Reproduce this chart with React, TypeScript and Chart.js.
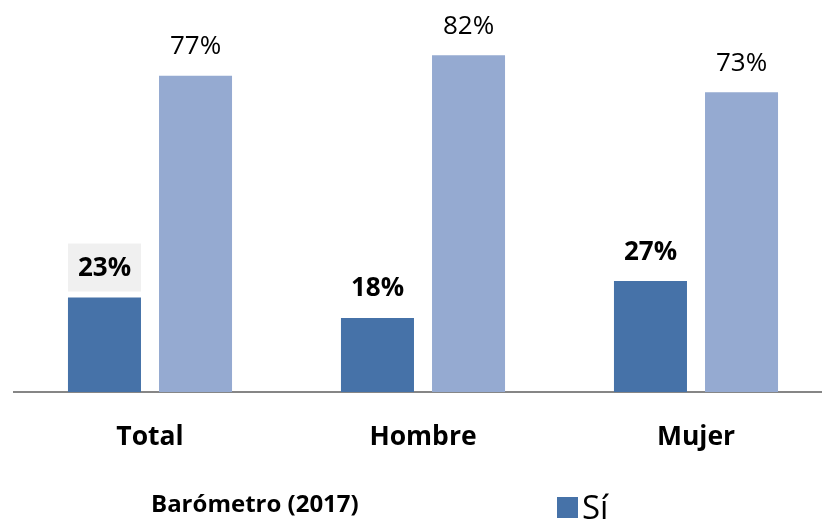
import React, { useEffect, useRef } from "react";
import { Chart, registerables } from "chart.js";

Chart.register(...registerables);

const categories = ["Total", "Hombre", "Mujer"];
const siValues = [23, 18, 27];
const noValues = [77, 82, 73];
const seriesNames = ["Sí", "No"];
const highlightedSiLabel = [true, false, false];
const footerText = "Barómetro (2017)";

const SI_COLOR = "#4672A8";
const NO_COLOR = "#95AAD1";
const FONT = "'Open Sans', Lato, sans-serif";

const labelPlugin = {
  id: "valueLabels",
  afterDatasetsDraw(chart: any) {
    const ctx = chart.ctx;
    ctx.save();
    chart.data.datasets.forEach((ds: any, di: number) => {
      const meta = chart.getDatasetMeta(di);
      meta.data.forEach((bar: any, i: number) => {
        const v = ds.data[i];
        const bold = di === 0;
        const cy = bar.y - 29;
        if (di === 0 && highlightedSiLabel[i]) {
          const w = bar.width;
          ctx.fillStyle = "#F0F0F0";
          ctx.fillRect(bar.x - w / 2, cy - 25, w, 48);
        }
        ctx.fillStyle = "#000";
        ctx.font = `${bold ? "bold " : ""}26px ${FONT}`;
        ctx.textAlign = "center";
        ctx.textBaseline = "middle";
        ctx.fillText(`${v}%`, bar.x, cy);
      });
    });
    ctx.restore();
  },
  afterDraw(chart: any) {
    const ctx = chart.ctx;
    ctx.save();
    ctx.fillStyle = "#000";
    ctx.font = `bold 24px ${FONT}`;
    ctx.textAlign = "left";
    ctx.textBaseline = "alphabetic";
    ctx.fillText(footerText, 151, 512);
    ctx.fillStyle = SI_COLOR;
    ctx.fillRect(557, 497, 21, 21);
    ctx.fillStyle = "#000";
    ctx.font = `33px ${FONT}`;
    ctx.fillText(chart.data.datasets[0].label, 582, 519);
    ctx.restore();
  },
};

export default function App() {
  const ref = useRef<HTMLCanvasElement>(null);
  useEffect(() => {
    if (!ref.current) return;
    const chart = new Chart(ref.current, {
      type: "bar",
      data: {
        labels: categories,
        datasets: [
          { label: seriesNames[0], data: siValues, backgroundColor: SI_COLOR, barPercentage: 0.802, categoryPercentage: 0.667 },
          { label: seriesNames[1], data: noValues, backgroundColor: NO_COLOR, barPercentage: 0.802, categoryPercentage: 0.667 },
        ],
      },
      options: {
        responsive: false,
        animation: false,
        layout: { padding: { left: 13.5, right: 7.5, top: 10, bottom: 0 } },
        plugins: { legend: { display: false }, tooltip: { enabled: false } },
        scales: {
          x: {
            grid: { display: false, drawTicks: false },
            border: { display: true, color: "#868686", width: 2 },
            ticks: { color: "#000", padding: 30, font: { family: FONT, size: 26.5, weight: "bold" } },
            afterFit: (scale: any) => {
              scale.height = 127;
            },
          },
          y: { display: false, min: 0, max: 93 },
        },
      },
      plugins: [labelPlugin],
    });
    return () => chart.destroy();
  }, []);
  return (
    <div style={{ position: "fixed", left: 0, top: 0, width: 822, height: 519, overflow: "hidden", background: "#fff" }}>
      <canvas ref={ref} width={840} height={519} style={{ width: 840, height: 519, display: "block" }} />
    </div>
  );
}
